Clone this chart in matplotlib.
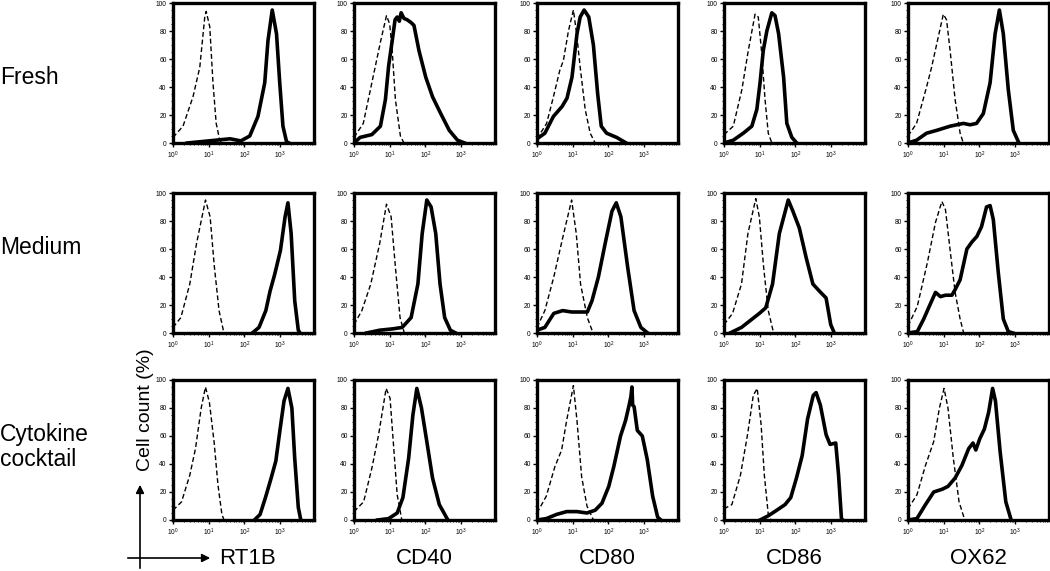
import numpy as np
import matplotlib
matplotlib.use("Agg")
import matplotlib.pyplot as plt
from matplotlib.patches import FancyArrowPatch
from matplotlib.ticker import MultipleLocator, LogLocator, FixedLocator, NullFormatter

plt.rcParams['font.family'] = ['Liberation Sans', 'DejaVu Sans']
plt.rcParams['mathtext.default'] = 'regular'

conditions = ["Fresh", "Medium", "Cytokine\ncocktail"]
markers = ["RT1B", "CD40", "CD80", "CD86", "OX62"]
x_ticks = [1, 10, 100, 1000]
x_tick_labels = [r"$10^{0}$", r"$10^{1}$", r"$10^{2}$", r"$10^{3}$"]
y_ticks = [0, 20, 40, 60, 80, 100]

# curves: x in decades (log10 fluorescence), y in % of max
# --- Fresh ---
fresh_rt1b_iso_x = [0, 0.28, 0.56, 0.75, 0.89, 0.93, 1.03, 1.12, 1.21, 1.31, 1.4]
fresh_rt1b_iso_y = [4, 12, 33, 54, 90, 94, 83, 43, 14, 2, 0]
fresh_rt1b_x = [0.4, 0.8, 1.2, 1.6, 1.9, 2.15, 2.38, 2.57, 2.66, 2.78, 2.9, 2.99, 3.08, 3.18, 3.25]
fresh_rt1b_y = [0, 1, 2, 3, 1.5, 5, 19, 43, 73, 95, 78, 43, 12, 1, 0]

fresh_cd40_iso_x = [0, 0.26, 0.5, 0.74, 0.91, 1.0, 1.07, 1.16, 1.3, 1.4]
fresh_cd40_iso_y = [4, 14, 43, 72, 91, 85, 66, 31, 5, 0]
fresh_cd40_x = [0, 0.17, 0.5, 0.74, 0.88, 0.97, 1.07, 1.15, 1.21, 1.27, 1.32, 1.4, 1.49, 1.6, 1.68,
                1.82, 2.01, 2.2, 2.43, 2.67, 2.9, 3.1]
fresh_cd40_y = [0, 4, 6, 12, 31, 55, 73, 88, 90, 87, 93, 89, 88, 86, 84,
                66, 47, 33, 21, 9, 2, 0]

fresh_cd80_iso_x = [0, 0.27, 0.46, 0.64, 0.74, 0.88, 1.02, 1.11, 1.21, 1.35, 1.49, 1.63]
fresh_cd80_iso_y = [3, 14, 33, 52, 59, 80, 95, 78, 54, 24, 7, 0]
fresh_cd80_x = [0, 0.22, 0.46, 0.7, 0.84, 0.98, 1.12, 1.21, 1.32, 1.45, 1.58, 1.7, 1.8, 1.95, 2.23, 2.5]
fresh_cd80_y = [3, 7, 19, 26, 32, 47, 78, 90, 95, 90, 70, 35, 12, 7, 4, 0]

fresh_cd86_iso_x = [0, 0.26, 0.5, 0.68, 0.87, 0.96, 1.05, 1.15, 1.24, 1.34]
fresh_cd86_iso_y = [6, 12, 38, 66, 92, 90, 66, 31, 7, 0]
fresh_cd86_x = [0, 0.26, 0.54, 0.78, 0.92, 1.01, 1.1, 1.2, 1.34, 1.43, 1.53, 1.67, 1.76, 1.9, 2.04]
fresh_cd86_y = [0, 2, 7, 12, 24, 43, 66, 80, 93, 91, 78, 47, 14, 4, 0]

fresh_ox62_iso_x = [0, 0.24, 0.52, 0.66, 0.85, 0.99, 1.08, 1.18, 1.32, 1.46, 1.55]
fresh_ox62_iso_y = [5, 14, 40, 54, 76, 92, 88, 66, 31, 7, 0]
fresh_ox62_x = [0, 0.24, 0.52, 0.8, 1.18, 1.55, 1.74, 1.92, 2.11, 2.3, 2.44, 2.56, 2.67, 2.81, 2.95, 3.09]
fresh_ox62_y = [0, 2, 7, 9, 12, 14, 13, 14, 21, 43, 78, 95, 78, 38, 9, 1]

# --- Medium ---
medium_rt1b_iso_x = [0, 0.22, 0.47, 0.66, 0.91, 1.04, 1.16, 1.29, 1.41, 1.47]
medium_rt1b_iso_y = [4, 11, 35, 64, 95, 83, 47, 16, 2, 0]
medium_rt1b_x = [2.22, 2.41, 2.6, 2.72, 2.85, 3.01, 3.14, 3.22, 3.31, 3.41, 3.51, 3.56]
medium_rt1b_y = [0, 4, 16, 30, 42, 59, 83, 93, 71, 23, 2, 0]

medium_cd40_iso_x = [0, 0.22, 0.47, 0.72, 0.91, 1.04, 1.16, 1.29, 1.41]
medium_cd40_iso_y = [6, 16, 35, 64, 92, 83, 47, 11, 0]
medium_cd40_x = [0.35, 0.72, 1.1, 1.35, 1.6, 1.79, 1.91, 2.04, 2.16, 2.29, 2.41, 2.54, 2.7, 2.85]
medium_cd40_y = [0, 2, 3, 4, 11, 35, 71, 95, 90, 71, 35, 11, 2, 0]

medium_cd80_iso_x = [0, 0.22, 0.47, 0.72, 0.97, 1.1, 1.22, 1.41, 1.57]
medium_cd80_iso_y = [4, 16, 40, 68, 95, 71, 35, 11, 0]
medium_cd80_x = [0, 0.22, 0.47, 0.72, 0.97, 1.22, 1.41, 1.54, 1.72, 1.91, 2.1, 2.22, 2.35, 2.54, 2.72, 2.91, 3.1]
medium_cd80_y = [2, 4, 14, 16, 15, 15, 15, 23, 40, 64, 87, 93, 83, 47, 16, 4, 0]

medium_cd86_iso_x = [0, 0.24, 0.49, 0.67, 0.89, 0.99, 1.11, 1.24, 1.39]
medium_cd86_iso_y = [6, 14, 35, 71, 96, 83, 47, 16, 0]
medium_cd86_x = [0.17, 0.49, 0.74, 0.99, 1.17, 1.36, 1.55, 1.8, 1.93, 2.11, 2.3, 2.49, 2.67, 2.86, 2.99, 3.09]
medium_cd86_y = [0, 4, 9, 14, 18, 35, 71, 95, 87, 75, 54, 35, 30, 25, 6, 0]

medium_ox62_iso_x = [0, 0.26, 0.54, 0.77, 0.95, 1.05, 1.19, 1.32, 1.46, 1.56]
medium_ox62_iso_y = [5, 19, 50, 79, 94, 88, 57, 29, 10, 0]
medium_ox62_x = [0, 0.26, 0.44, 0.63, 0.77, 0.91, 1.05, 1.23, 1.32, 1.46, 1.65, 1.79, 1.93, 2.06, 2.2, 2.3,
                 2.39, 2.53, 2.67, 2.81, 2.94]
medium_ox62_y = [0, 1, 10, 21, 29, 26, 27, 27, 31, 38, 60, 65, 69, 76, 90, 91, 81, 43, 10, 1, 0]

# --- Cytokine cocktail ---
cocktail_rt1b_iso_x = [0, 0.24, 0.47, 0.63, 0.79, 0.91, 1.02, 1.15, 1.26, 1.37, 1.43]
cocktail_rt1b_iso_y = [7, 13, 32, 51, 80, 95, 84, 56, 25, 4, 0]
cocktail_rt1b_x = [2.28, 2.44, 2.59, 2.75, 2.88, 2.99, 3.11, 3.22, 3.33, 3.41, 3.51, 3.58]
cocktail_rt1b_y = [0, 4, 16, 30, 42, 63, 85, 94, 80, 44, 9, 0]

cocktail_cd40_iso_x = [0, 0.27, 0.5, 0.69, 0.9, 1.01, 1.1, 1.21, 1.34]
cocktail_cd40_iso_y = [6, 13, 37, 61, 94, 87, 56, 18, 0]
cocktail_cd40_x = [0.66, 0.97, 1.21, 1.37, 1.53, 1.65, 1.76, 1.89, 2.04, 2.2, 2.39, 2.63]
cocktail_cd40_y = [0, 1, 5, 16, 44, 75, 94, 80, 56, 30, 11, 0]

cocktail_cd80_iso_x = [0, 0.26, 0.5, 0.69, 0.83, 1.02, 1.12, 1.25, 1.4, 1.58]
cocktail_cd80_iso_y = [5, 17, 38, 50, 71, 96, 71, 31, 10, 0]
cocktail_cd80_x = [0, 0.26, 0.55, 0.83, 1.12, 1.4, 1.63, 1.82, 2.01, 2.15, 2.34, 2.48, 2.58, 2.63, 2.66,
                   2.68, 2.72, 2.81, 2.95, 3.09, 3.24, 3.38, 3.47]
cocktail_cd80_y = [0, 1, 4, 6, 6, 5, 7, 12, 24, 38, 60, 71, 82, 88, 95, 82, 81, 64, 60, 43, 17, 2, 0]

cocktail_cd86_iso_x = [0, 0.22, 0.46, 0.66, 0.82, 0.93, 1.04, 1.13, 1.24, 1.32]
cocktail_cd86_iso_y = [8, 11, 32, 61, 89, 94, 68, 32, 4, 0]
cocktail_cd86_x = [1.01, 1.24, 1.48, 1.71, 1.87, 2.03, 2.19, 2.34, 2.5, 2.58, 2.7, 2.86, 2.97, 3.13, 3.21, 3.29, 3.33]
cocktail_cd86_y = [0, 3, 7, 11, 16, 30, 46, 72, 89, 91, 82, 61, 54, 55, 32, 1, 0]

cocktail_ox62_iso_x = [0, 0.25, 0.49, 0.72, 0.88, 1.01, 1.12, 1.27, 1.43, 1.59]
cocktail_ox62_iso_y = [8, 18, 39, 56, 80, 94, 80, 44, 13, 0]
cocktail_ox62_x = [0, 0.25, 0.49, 0.72, 0.96, 1.12, 1.32, 1.51, 1.7, 1.82, 1.9, 2.01, 2.14, 2.26, 2.37,
                   2.45, 2.58, 2.74, 2.89]
cocktail_ox62_y = [0, 1, 11, 20, 22, 24, 30, 39, 51, 55, 50, 58, 65, 77, 94, 85, 49, 13, 0]

panels = [
    [(fresh_rt1b_iso_x, fresh_rt1b_iso_y, fresh_rt1b_x, fresh_rt1b_y),
     (fresh_cd40_iso_x, fresh_cd40_iso_y, fresh_cd40_x, fresh_cd40_y),
     (fresh_cd80_iso_x, fresh_cd80_iso_y, fresh_cd80_x, fresh_cd80_y),
     (fresh_cd86_iso_x, fresh_cd86_iso_y, fresh_cd86_x, fresh_cd86_y),
     (fresh_ox62_iso_x, fresh_ox62_iso_y, fresh_ox62_x, fresh_ox62_y)],
    [(medium_rt1b_iso_x, medium_rt1b_iso_y, medium_rt1b_x, medium_rt1b_y),
     (medium_cd40_iso_x, medium_cd40_iso_y, medium_cd40_x, medium_cd40_y),
     (medium_cd80_iso_x, medium_cd80_iso_y, medium_cd80_x, medium_cd80_y),
     (medium_cd86_iso_x, medium_cd86_iso_y, medium_cd86_x, medium_cd86_y),
     (medium_ox62_iso_x, medium_ox62_iso_y, medium_ox62_x, medium_ox62_y)],
    [(cocktail_rt1b_iso_x, cocktail_rt1b_iso_y, cocktail_rt1b_x, cocktail_rt1b_y),
     (cocktail_cd40_iso_x, cocktail_cd40_iso_y, cocktail_cd40_x, cocktail_cd40_y),
     (cocktail_cd80_iso_x, cocktail_cd80_iso_y, cocktail_cd80_x, cocktail_cd80_y),
     (cocktail_cd86_iso_x, cocktail_cd86_iso_y, cocktail_cd86_x, cocktail_cd86_y),
     (cocktail_ox62_iso_x, cocktail_ox62_iso_y, cocktail_ox62_x, cocktail_ox62_y)],
]

W, H = 1050, 571
fig = plt.figure(figsize=(W / 100, H / 100), dpi=100)

col_left = [173, 354, 537, 724, 908]
row_top = [3, 193, 380]
pw, ph = 141, 140

for r in range(3):
    for c in range(5):
        ax = fig.add_axes([col_left[c] / W, (H - row_top[r] - ph) / H, pw / W, ph / H])
        iso_x, iso_y, st_x, st_y = panels[r][c]
        ax.plot(10 ** np.array(iso_x), iso_y, color='black', lw=1.0, dashes=(3.5, 2))
        ax.plot(10 ** np.array(st_x), st_y, color='black', lw=2.6, solid_joinstyle='round')
        ax.set_xscale('log')
        ax.set_xlim(1, 10 ** 3.95)
        ax.set_ylim(0, 100)
        ax.xaxis.set_major_locator(FixedLocator(x_ticks))
        ax.set_xticklabels(x_tick_labels)
        ax.xaxis.set_minor_locator(LogLocator(base=10, subs=np.arange(2, 10)))
        ax.xaxis.set_minor_formatter(NullFormatter())
        ax.set_yticks(y_ticks)
        ax.yaxis.set_minor_locator(MultipleLocator(5))
        ax.tick_params(which='major', direction='out', length=3, width=1, labelsize=4.8, pad=1.5)
        ax.tick_params(which='minor', direction='out', length=1.5, width=0.6)
        for s in ax.spines.values():
            s.set_linewidth(2.4)

# row labels
row_y = [77, 248, 447]
for lab, yy in zip(conditions, row_y):
    fig.text(0, 1 - yy / H, lab, fontsize=16.5, ha='left', va='center', linespacing=1.1)

# column labels
for c, lab in enumerate(markers):
    fig.text((col_left[c] + pw / 2 + (4 if c == 0 else 0)) / W, 1 - 559 / H, lab,
             fontsize=16, ha='center', va='center')

# axis arrows in the corner
fig.add_artist(FancyArrowPatch((140 / W, 0), (140 / W, 1 - 482 / H), transform=fig.transFigure,
                               arrowstyle='-|>', mutation_scale=12, color='black', lw=1.2))
fig.add_artist(FancyArrowPatch((125 / W, 1 - 558 / H), (213 / W, 1 - 558 / H), transform=fig.transFigure,
                               arrowstyle='-|>', mutation_scale=12, color='black', lw=1.2))
fig.text(145 / W, 1 - 471 / H, "Cell count (%)", fontsize=14, rotation=90, ha='center', va='bottom')

fig.savefig("out.png", dpi=100)
